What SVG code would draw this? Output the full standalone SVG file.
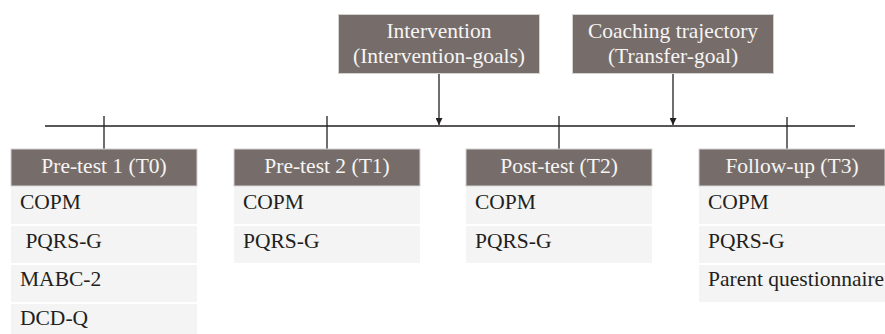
<svg xmlns="http://www.w3.org/2000/svg" width="885" height="334" viewBox="0 0 885 334" font-family="'Liberation Serif', 'DejaVu Serif', 'Times New Roman', serif">
<defs>
<style>
text{font-family:'Liberation Serif','DejaVu Serif',serif;font-size:21.5px}
.hd{fill:#766d6a;stroke:#d4d2d1;stroke-width:1}
.row{fill:#f4f4f4}
.ht{fill:#f7f5f4;text-anchor:middle}
.rt{fill:#231f20}
.ln{stroke:#231f20;stroke-width:1.3;fill:none}
</style>
<marker id="ah" viewBox="0 0 10 10" refX="10" refY="5" markerWidth="7" markerHeight="7" markerUnits="userSpaceOnUse" orient="auto">
<path d="M0,0 L10,5 L0,10 z" fill="#231f20"/>
</marker>
</defs>
<rect width="885" height="334" fill="#ffffff"/>
<g id="connectors">
<line class="ln" x1="45" y1="126" x2="855" y2="126"/>
<line class="ln" x1="104" y1="116" x2="104" y2="149"/>
<line class="ln" x1="327" y1="116" x2="327" y2="149"/>
<line class="ln" x1="559" y1="116" x2="559" y2="149"/>
<line class="ln" x1="787" y1="117" x2="787" y2="149"/>
<line class="ln" x1="439" y1="74" x2="439" y2="125" marker-end="url(#ah)"/>
<line class="ln" x1="673" y1="74" x2="673" y2="125" marker-end="url(#ah)"/>
</g>
<g id="intervention">
<rect class="hd" x="338.5" y="14.5" width="201" height="59"/>
<text class="ht" x="439" y="38">Intervention</text>
<text class="ht" x="439" y="63">(Intervention-goals)</text>
</g>
<g id="coaching">
<rect class="hd" x="572.5" y="14.5" width="201" height="59"/>
<text class="ht" x="673" y="38">Coaching trajectory</text>
<text class="ht" x="673" y="63">(Transfer-goal)</text>
</g>
<g id="t0">
<rect class="hd" x="11" y="149" width="186" height="37" stroke="none"/>
<text class="ht" x="104" y="173">Pre-test 1 (T0)</text>
<rect class="row" x="11" y="187" width="186" height="37"/>
<text class="rt" x="20" y="209">COPM</text>
<rect class="row" x="11" y="226" width="186" height="37"/>
<text class="rt" x="20" y="248" xml:space="preserve"> PQRS-G</text>
<rect class="row" x="11" y="265" width="186" height="37"/>
<text class="rt" x="20" y="286">MABC-2</text>
<rect class="row" x="11" y="304" width="186" height="37"/>
<text class="rt" x="20" y="325">DCD-Q</text>
</g>
<g id="t1">
<rect class="hd" x="234" y="149" width="186" height="37" stroke="none"/>
<text class="ht" x="327" y="173">Pre-test 2 (T1)</text>
<rect class="row" x="234" y="187" width="186" height="37"/>
<text class="rt" x="243" y="209">COPM</text>
<rect class="row" x="234" y="226" width="186" height="37"/>
<text class="rt" x="243" y="248">PQRS-G</text>
</g>
<g id="t2">
<rect class="hd" x="466" y="149" width="186" height="37" stroke="none"/>
<text class="ht" x="559" y="173">Post-test (T2)</text>
<rect class="row" x="466" y="187" width="186" height="37"/>
<text class="rt" x="475" y="209">COPM</text>
<rect class="row" x="466" y="226" width="186" height="37"/>
<text class="rt" x="475" y="248">PQRS-G</text>
</g>
<g id="t3">
<rect class="hd" x="699" y="149" width="186" height="37" stroke="none"/>
<text class="ht" x="792" y="173">Follow-up (T3)</text>
<rect class="row" x="699" y="187" width="186" height="37"/>
<text class="rt" x="708" y="209">COPM</text>
<rect class="row" x="699" y="226" width="186" height="37"/>
<text class="rt" x="708" y="248">PQRS-G</text>
<rect class="row" x="699" y="265" width="186" height="37"/>
<text class="rt" x="708" y="286">Parent questionnaire</text>
</g>
</svg>
